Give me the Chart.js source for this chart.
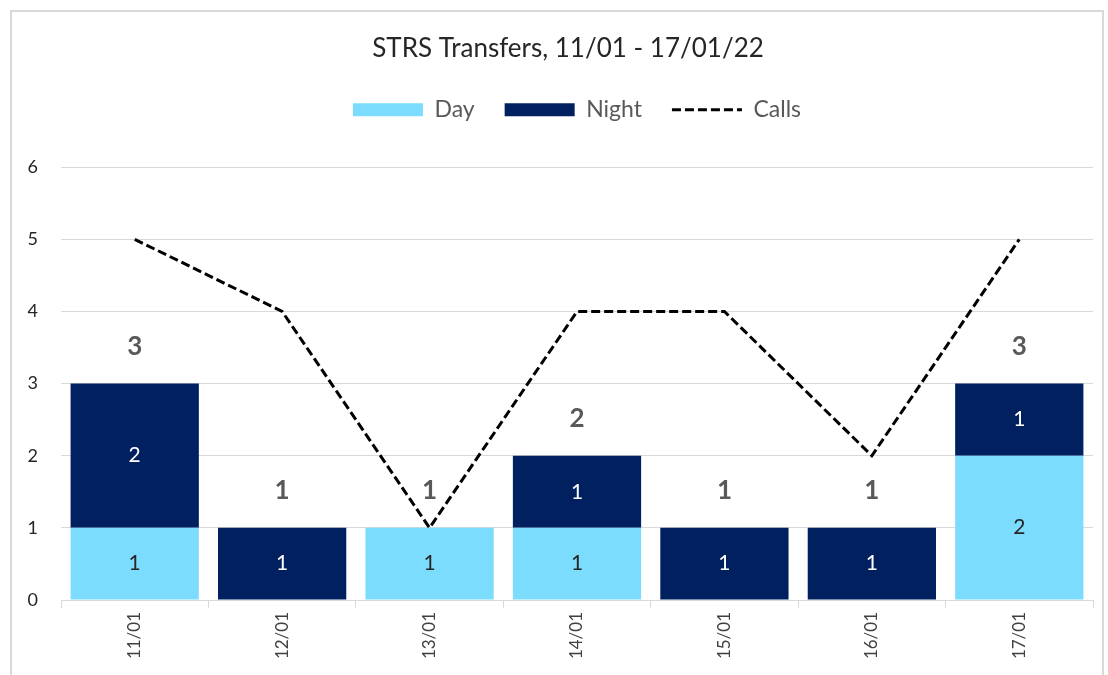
<!DOCTYPE html>
<html>
<head>
<meta charset="utf-8">
<script src="https://cdn.jsdelivr.net/npm/chart.js@4/dist/chart.umd.min.js"></script>
<style>
  body { margin: 0; background: #fff; }
  #wrap { position: absolute; left: 10px; top: 10px; width: 1090px; height: 680px; border: 2px solid #d9d9d9; background: #fff; }
</style>
</head>
<body>
<div id="wrap"><canvas id="myChart"></canvas></div>
<script>
const days = ["11/01", "12/01", "13/01", "14/01", "15/01", "16/01", "17/01"];
const dayTransfers = [1, 0, 1, 1, 0, 0, 2];
const nightTransfers = [2, 1, 0, 1, 1, 1, 1];
const calls = [5, 4, 1, 4, 4, 2, 5];
const yTicks = [0, 1, 2, 3, 4, 5, 6];

const font = "Lato, 'Liberation Sans', sans-serif";

// numbers inside the bars and the totals above them
const labelPlugin = {
    id: "barLabels",
    afterDatasetsDraw(chart) {
        const ctx = chart.ctx;
        ctx.save();
        ctx.textAlign = "center";
        ctx.textBaseline = "middle";
        [0, 1].forEach(di => {
            const meta = chart.getDatasetMeta(di);
            const values = chart.data.datasets[di].data;
            ctx.font = "21px " + font;
            ctx.fillStyle = di === 0 ? "#262626" : "#ffffff";
            meta.data.forEach((bar, i) => {
                if (!values[i]) return;
                ctx.fillText(values[i], bar.x, (bar.y + bar.base) / 2);
            });
        });
        const y = chart.scales.y;
        const x = chart.scales.x;
        ctx.font = "bold 26px " + font;
        ctx.fillStyle = "#595959";
        days.forEach((d, i) => {
            const total = dayTransfers[i] + nightTransfers[i];
            ctx.fillText(total, x.getPixelForValue(i), y.getPixelForValue(total) - 37);
        });
        ctx.restore();
    }
};

const ctx = document.getElementById("myChart").getContext("2d");
new Chart(ctx, {
    type: "bar",
    data: {
        labels: days,
        datasets: [
            {
                label: "Day",
                data: dayTransfers,
                backgroundColor: "#7cdcfe",
                borderWidth: 0,
                pointStyle: "rect",
                stack: "s",
                yAxisID: "y",
                order: 1
            },
            {
                label: "Night",
                data: nightTransfers,
                backgroundColor: "#002060",
                borderWidth: 0,
                pointStyle: "rect",
                stack: "s",
                yAxisID: "y",
                order: 1
            },
            {
                type: "line",
                label: "Calls",
                data: calls,
                borderColor: "#000000",
                backgroundColor: "#000000",
                borderWidth: 3,
                borderDash: [9, 4],
                pointRadius: 0,
                pointStyle: "line",
                tension: 0,
                yAxisID: "y",
                order: 0
            }
        ]
    },
    options: {
        responsive: true,
        maintainAspectRatio: false,
        animation: false,
        // title in the original sits a bit right of the canvas centre
        layout: { padding: { left: 0, right: -22, top: 0, bottom: 0 } },
        datasets: { bar: { barPercentage: 0.87, categoryPercentage: 1 } },
        plugins: {
            tooltip: { enabled: false },
            title: {
                display: true,
                text: "STRS Transfers, 11/01 - 17/01/22",
                color: "#262626",
                font: { family: font, size: 26, weight: "normal" },
                padding: { top: 21, bottom: 4 }
            },
            // empty spacer between legend and plot
            subtitle: {
                display: true,
                text: "",
                weight: 500,
                font: { size: 1, lineHeight: 1 },
                padding: { top: 0, bottom: 35 }
            },
            legend: {
                position: "top",
                fullSize: false,
                labels: {
                    usePointStyle: true,
                    pointStyleWidth: 70,
                    boxHeight: 13,
                    color: "#595959",
                    font: { family: font, size: 23 },
                    padding: 30,
                    sort: (a, b) => a.datasetIndex - b.datasetIndex,
                    generateLabels: chart => {
                        const items = Chart.defaults.plugins.legend.labels.generateLabels(chart);
                        items.forEach(it => {
                            const ds = chart.data.datasets[it.datasetIndex];
                            if (ds.type === "line") {
                                it.lineDash = ds.borderDash;
                                it.lineWidth = ds.borderWidth;
                                it.strokeStyle = ds.borderColor;
                            } else {
                                it.lineWidth = 0;
                                it.strokeStyle = ds.backgroundColor;
                            }
                        });
                        return items;
                    }
                }
            }
        },
        scales: {
            x: {
                stacked: true,
                offset: true,
                grid: { offset: true, drawOnChartArea: false, drawTicks: true, tickLength: 8, color: "#d9d9d9" },
                border: { display: true, color: "#d9d9d9" },
                ticks: { minRotation: 90, maxRotation: 90, color: "#404040", font: { family: font, size: 17 }, padding: 4 },
                afterFit: s => { s.height = 92; }
            },
            y: {
                stacked: true,
                min: 0,
                max: 6,
                grid: { color: "#d9d9d9", drawTicks: false },
                border: { display: false },
                afterBuildTicks: s => { s.ticks = yTicks.map(v => ({ value: v })); },
                ticks: { color: "#262626", font: { family: font, size: 18 }, padding: 23 },
                afterFit: s => { s.width = 49; }
            },
            // blank right margin
            yRight: {
                position: "right",
                min: 0,
                max: 6,
                grid: { display: false },
                border: { display: false },
                ticks: { display: false },
                afterFit: s => { s.width = 31; }
            }
        }
    },
    plugins: [labelPlugin]
});
</script>
</body>
</html>
